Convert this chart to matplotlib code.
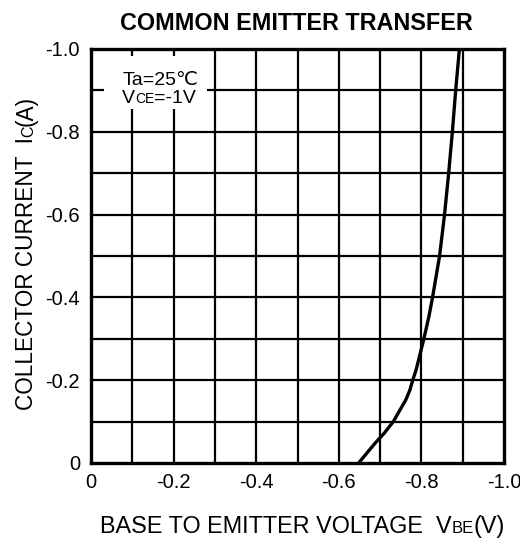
import matplotlib
matplotlib.use("Agg")
import matplotlib.pyplot as plt
from matplotlib.transforms import IdentityTransform

plt.rcParams['font.family'] = ['Liberation Sans', 'DejaVu Sans']

# Data
vbe = [-0.648, -0.668, -0.688, -0.710, -0.732, -0.748, -0.762, -0.772,
       -0.779, -0.787, -0.793, -0.799, -0.806, -0.818, -0.827, -0.844,
       -0.856, -0.866, -0.875, -0.883, -0.892]
ic = [0.0, -0.024, -0.048, -0.072, -0.100, -0.128, -0.152, -0.176,
      -0.200, -0.224, -0.248, -0.272, -0.300, -0.353, -0.400, -0.500,
      -0.600, -0.700, -0.800, -0.900, -1.000]
xticks = [0, -0.2, -0.4, -0.6, -0.8, -1.0]
xticklabels = ["0", "-0.2", "-0.4", "-0.6", "-0.8", "-1.0"]
yticks = [0, -0.2, -0.4, -0.6, -0.8, -1.0]
yticklabels = ["0", "-0.2", "-0.4", "-0.6", "-0.8", "-1.0"]
grid_steps = [-0.1 * k for k in range(1, 10)]

W, H = 520, 546
fig = plt.figure(figsize=(W / 100, H / 100), dpi=100)
ax = fig.add_axes([91 / W, (H - 463) / H, (504 - 91) / W, (463 - 49) / H])

ax.set_xlim(0, -1.0)
ax.set_ylim(0, -1.0)
for g in grid_steps:
    ax.axvline(g, color='black', lw=1.6, zorder=1)
    ax.axhline(g, color='black', lw=1.6, zorder=1)

ax.plot(vbe, ic, color='black', lw=2.4, zorder=3, solid_joinstyle='round')

ax.set_xticks(xticks)
ax.set_xticklabels(xticklabels)
ax.set_yticks(yticks)
ax.set_yticklabels(yticklabels)
ax.tick_params(length=0, labelsize=14.5)
ax.tick_params(axis='x', pad=7)
ax.tick_params(axis='y', pad=8)
for s in ax.spines.values():
    s.set_linewidth(2.4)

renderer = fig.canvas.get_renderer()
PX = IdentityTransform()


def rich(x, y, pieces, rotation=0, **kw):
    for s, size in pieces:
        t = fig.text(x, y, s, fontsize=size, rotation=rotation,
                     transform=PX, va='baseline', ha='left',
                     rotation_mode='anchor', **kw)
        bb = t.get_window_extent(renderer)
        if rotation == 0:
            x += bb.width
        else:
            y += bb.height
    return t


fig.text(296, H - 30, "COMMON EMITTER TRANSFER", transform=PX, ha='center',
         va='baseline', fontsize=16.8, fontweight='bold')

# white patch behind the condition note (interrupts the grid)
fig.patches.append(plt.Rectangle((104, H - 109), 103, 53, transform=PX,
                                 facecolor='white', edgecolor='none', zorder=0.5))
rich(123, H - 85, [("Ta=25\u2103", 14)], zorder=5)
rich(122, H - 103, [("V", 14), ("CE", 10), ("=-1V", 14)], zorder=5)

rich(100, H - 533, [("BASE TO EMITTER VOLTAGE  V", 16.8), ("BE", 12), ("(V)", 16.8)])
rich(33, H - 410, [("COLLECTOR CURRENT  I", 16.3), ("C", 11.5), ("(A)", 16.3)],
     rotation=90)

fig.savefig("out.png", dpi=100)
